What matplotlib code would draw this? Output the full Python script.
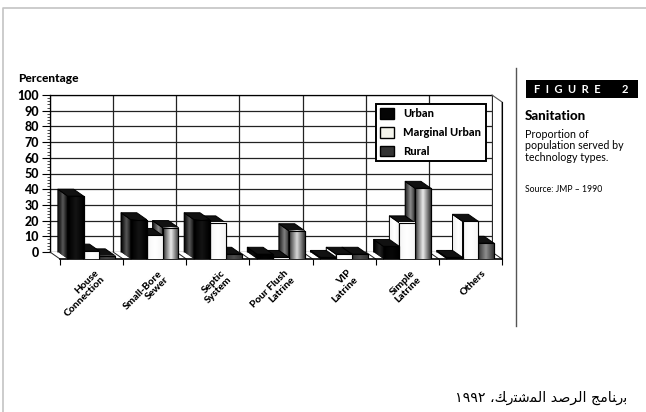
import numpy as np
import matplotlib
matplotlib.use("Agg")
import matplotlib.pyplot as plt
from matplotlib.patches import Patch, Polygon, Rectangle
from matplotlib.lines import Line2D

categories = ["House\nConnection", "Small-Bore\nSewer", "Septic\nSystem", "Pour Flush\nLatrine",
              "VIP\nLatrine", "Simple\nLatrine", "Others"]
urban = [40, 25, 25, 3, 1, 8, 1]
marginal = [5, 15, 23, 1, 3, 23, 24]
rural = [2, 20, 3, 18, 3, 45, 10]
yticks = list(range(0, 101, 10))

W, H = 646, 412
plt.rcParams["font.family"] = ["Lato", "DejaVu Sans"]

# Arabic is written out in presentation forms since matplotlib does not shape it
caption = ("\u0661\u0669\u0669\u0662 \u060c\ufeda\ufead\ufe98\ufeb7\ufee4\ufedf\ufe8d "
           "\ufeaa\ufebb\ufeae\ufedf\ufe8d \ufe9e\ufee3\ufe8e\ufee8\ufead\ufe91")


def box(x0, y_top, x1, y_bottom):
    return [x0 / W, 1 - y_bottom / H, (x1 - x0) / W, (y_bottom - y_top) / H]


fig = plt.figure(figsize=(W / 100, H / 100), dpi=100, facecolor="white")

# back wall of the 3D box
wall = fig.add_axes(box(50, 95, 492, 252))
wall.set_xlim(0, 7)
wall.set_ylim(0, 100)
wall.set_xticks(range(8))
wall.set_xticklabels([])
wall.set_yticks(yticks)
wall.set_yticks(range(0, 101, 2), minor=True)
wall.tick_params(axis="x", length=0)
wall.tick_params(axis="y", length=6, width=0.8, pad=2, labelsize=9)
wall.tick_params(axis="y", which="minor", length=2, width=0.5)
for t in wall.get_yticklabels():
    t.set_fontweight(900)
wall.grid(True, color="#222222", lw=0.9)
for name in ["top", "left"]:
    wall.spines[name].set_linewidth(0.9)
wall.spines["right"].set_linewidth(0.6)
wall.spines["bottom"].set_visible(False)

# front plane, bars live here
ax = fig.add_axes(box(60, 102, 502, 259))
ax.patch.set_alpha(0)
ax.set_xlim(0, 7)
ax.set_ylim(0, 100)
ax.set_yticks([])
for name in ["top", "left"]:
    ax.spines[name].set_visible(False)
ax.spines["right"].set_linewidth(0.8)
ax.spines["bottom"].set_linewidth(1.2)
ax.set_xticks(range(8))
ax.set_xticklabels([])
ax.tick_params(axis="x", length=4, width=0.8)
for i, name in enumerate(categories):
    nudge = 5.5 if name == "Others" else 0
    ax.annotate(name, (i + 0.5, 0), xytext=(2 + nudge, -7), textcoords="offset points", rotation=45,
                ha="right", va="top", rotation_mode="anchor", ma="right",
                fontsize=7.4, fontweight=900, linespacing=0.95, annotation_clip=False)

dx = -10 / 63.1
dy = 7 / 1.57
bw = 0.25

# floor lines running from wall to front
for i in range(8):
    ax.plot([i + dx, i], [dy, 0], color="#222222", lw=0.7, clip_on=False)
# right wall edge
ax.plot([7 + dx, 7, 7], [100 + dy, 100, 0], color="#555555", lw=0.8, clip_on=False)


def shade(extent, low, high, z, clip=None):
    # horizontal gradient with a lighter middle for the cylinder like shading
    t = 1 - np.abs(np.linspace(-1, 1, 32))
    g = low + (high - low) * t[None, :]
    im = ax.imshow(g, extent=extent, cmap="gray", vmin=0, vmax=1, aspect="auto", zorder=z,
                   interpolation="bilinear")
    if clip is not None:
        im.set_clip_path(clip)
    else:
        im.set_clip_on(False)


# right bar first, each bar hides the left face of its neighbour
series = [(rural, "#333333", 0.625, 0.2, 0.92, 0.12, 0.55),
          (marginal, "#fbfbf8", 0.375, 0.96, 1.0, 0.94, 1.0),
          (urban, "#050505", 0.125, 0.0, 0.08, 0.0, 0.35)]

z = 3.0
for i in range(6, -1, -1):
    for values, col, off, low, high, side_low, side_high in series:
        x = i + off
        v = values[i]
        # short dark bars have hardly any highlight in the scan
        fade = min(1, v / 20) if col != "#fbfbf8" else 1
        side = Polygon([(x, 0), (x + dx, dy), (x + dx, v + dy), (x, v)], fc="#222222", ec="none",
                       zorder=z, clip_on=False)
        ax.add_patch(side)
        shade([x + dx, x, 0, v + dy], side_low, side_low + (side_high - side_low) * fade, z + 0.1, clip=side)
        ax.plot([x + dx, x + dx, x, x], [dy, v + dy, v, 0], color="black", lw=0.7, zorder=z + 0.2, clip_on=False)
        ax.fill([x, x + dx, x + bw + dx, x + bw], [v, v + dy, v + dy, v], color="#111111", ec="black",
                lw=0.7, zorder=z + 0.3, clip_on=False)
        ax.bar(x, v, width=bw, align="edge", color=col, ec="black", lw=0.8, zorder=z + 0.4)
        shade([x, x + bw, 0, v], low, low + (high - low) * fade, z + 0.5)
        ax.plot([x, x, x + bw, x + bw], [0, v, v, 0], color="black", lw=0.8, zorder=z + 0.6)
        z += 1
ax.set_xlim(0, 7)
ax.set_ylim(0, 100)

handles = [Patch(fc="#050505", ec="black"), Patch(fc="#f4f4ec", ec="black"), Patch(fc="#333333", ec="black")]
leg = fig.legend(handles, ["Urban", "Marginal Urban", "Rural"], loc="upper left",
                 bbox_to_anchor=(376 / W, 1 - 104 / H), prop={"size": 8, "weight": 900},
                 fancybox=False, framealpha=1, edgecolor="black", handlelength=1.25, handleheight=1.05,
                 labelspacing=0.7, borderpad=0.4, handletextpad=0.8, borderaxespad=0)
leg.set_zorder(50)
leg.get_frame().set_linewidth(1.4)

fig.text(18 / W, 1 - 78 / H, "Percentage", fontsize=8.6, fontweight=900, va="center")

# page edge and side panel
fig.add_artist(Line2D([3 / W, 3 / W, 1], [0, 1 - 8 / H, 1 - 8 / H], color="#c4c4c4", lw=1.2))
fig.add_artist(Line2D([516 / W, 516 / W], [1 - 68 / H, 1 - 326 / H], color="#555555", lw=1.0))
fig.add_artist(Rectangle((526 / W, 1 - 98 / H), 112 / W, 18 / H, transform=fig.transFigure, fc="black", ec="none"))
fig.text(534 / W, 1 - 89.5 / H, "F  I  G  U  R  E", color="white", fontsize=8, fontweight="bold", va="center")
fig.text(628 / W, 1 - 89.5 / H, "2", color="white", fontsize=8, fontweight="bold", va="center", ha="right")
fig.text(525 / W, 1 - 116 / H, "Sanitation", fontsize=9.6, fontweight=900, va="center")
fig.text(525 / W, 1 - 129 / H, "Proportion of\npopulation served by\ntechnology types.", fontsize=7.7,
         va="top", linespacing=1.05)
fig.text(525 / W, 1 - 190 / H, "Source: JMP \u2013 1990", fontsize=6.2, va="center")
fig.text(627 / W, 1 - 398 / H, caption, fontsize=10.2, ha="right", va="center", family="DejaVu Sans")

fig.savefig("out.png", dpi=100)
